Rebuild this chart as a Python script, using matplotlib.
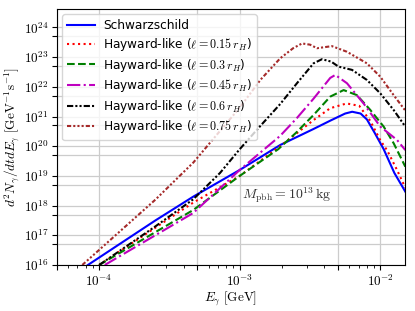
import numpy as np
import matplotlib
matplotlib.use('Agg')
import matplotlib.pyplot as plt
from matplotlib.ticker import LogLocator, FuncFormatter, NullLocator

plt.rcParams['mathtext.fontset'] = 'cm'
plt.rcParams['font.family'] = 'DejaVu Sans'

# log10(E / GeV) and log10(d2N/dtdE)
sch_lx = [-4.08, -3.6, -3.331, -3.0, -2.712, -2.475, -2.356, -2.25, -2.2, -2.14, -2.095, -2.04, -1.976, -1.9, -1.822]
sch_ly = [16.0, 17.5, 18.30, 19.2, 20.04, 20.58, 20.86, 21.10, 21.16, 21.10, 20.9, 20.45, 19.9, 19.1, 18.47]

l015_lx = [-4.0, -3.331, -3.0, -2.712, -2.475, -2.356, -2.24, -2.15, -2.071, -2.0, -1.95, -1.881, -1.822]
l015_ly = [16.0, 18.10, 19.0, 20.0, 20.88, 21.28, 21.44, 21.36, 20.85, 20.2, 19.85, 19.2, 18.6]

l03_lx = [-4.0, -3.331, -3.0, -2.726, -2.6, -2.475, -2.356, -2.261, -2.166, -2.071, -1.976, -1.905, -1.822]
l03_ly = [16.0, 17.85, 19.0, 19.9, 20.45, 21.05, 21.67, 21.89, 21.72, 21.22, 20.66, 20.10, 19.31]

l045_lx = [-3.96, -3.331, -3.0, -2.712, -2.593, -2.475, -2.356, -2.32, -2.237, -2.119, -2.0, -1.881, -1.822]
l045_ly = [16.0, 17.75, 19.2, 20.35, 20.95, 21.6, 22.3, 22.4, 22.12, 21.44, 20.66, 20.21, 19.87]

l06_lx = [-4.0, -3.6, -3.331, -3.14, -3.0, -2.85, -2.712, -2.593, -2.475, -2.415, -2.35, -2.297, -2.201, -2.095, -2.0, -1.905, -1.822]
l06_ly = [16.0, 17.3, 18.21, 19.1, 19.9, 20.7, 21.42, 22.12, 22.79, 22.93, 22.85, 22.68, 22.57, 22.23, 21.78, 21.22, 20.66]

l075_lx = [-4.12, -3.6, -3.33, -3.0, -2.85, -2.712, -2.62, -2.557, -2.5, -2.45, -2.344, -2.237, -2.095, -2.0, -1.905, -1.822]
l075_ly = [16.0, 18.2, 19.45, 21.3, 22.25, 22.96, 23.3, 23.46, 23.42, 23.30, 23.37, 23.18, 22.79, 22.34, 21.72, 21.2]

curves = [
    (sch_lx, sch_ly, 'Schwarzschild', 'b', '-'),
    (l015_lx, l015_ly, r'Hayward-like ($\ell = 0.15\,r_H$)', 'r', ':'),
    (l03_lx, l03_ly, r'Hayward-like ($\ell = 0.3\,r_H$)', 'g', '--'),
    (l045_lx, l045_ly, r'Hayward-like ($\ell = 0.45\,r_H$)', 'm', '-.'),
    (l06_lx, l06_ly, r'Hayward-like ($\ell = 0.6\,r_H$)', 'k', (0, (3, 1, 1, 1, 1, 1))),
    (l075_lx, l075_ly, r'Hayward-like ($\ell = 0.75\,r_H$)', 'brown', (0, (2, 1, 1, 1, 1, 1, 1, 1))),
]

fig = plt.figure(figsize=(4.15, 3.11), dpi=100)
ax = fig.add_axes([0.137, 0.148, 0.839, 0.823])

for lx, ly, lab, c, ls in curves:
    ax.plot(10**np.array(lx), 10**np.array(ly), color=c, linestyle=ls, linewidth=1.5, label=lab)

ax.set_xscale('log')
ax.set_yscale('log')
ax.set_xlim(5e-5, 1.5e-2)
ax.set_ylim(1e16, 10**24.62)

pow_fmt = FuncFormatter(lambda v, p: r'$10^{%d}$' % round(np.log10(v)) if abs(np.log10(v) - round(np.log10(v))) < 1e-6 else '')
for axis in (ax.xaxis, ax.yaxis):
    axis.set_major_locator(LogLocator(base=10, subs=(1.0, 5.0), numticks=30))
    axis.set_major_formatter(pow_fmt)
ax.xaxis.set_minor_locator(LogLocator(base=10, subs=(2, 3, 4, 6, 7, 8, 9), numticks=30))
ax.yaxis.set_minor_locator(NullLocator())
ax.tick_params(axis='both', which='major', labelsize=9.5, length=3.5, pad=2.5)
ax.tick_params(axis='both', which='minor', length=2)

ax.grid(True, which='major', color='0.8', linewidth=0.9)

ax.set_xlabel(r'$E_\gamma\ [\mathrm{GeV}]$', fontsize=9.5, labelpad=1)
ax.set_ylabel(r'$d^2N_\gamma/dtdE_\gamma\ [\mathrm{GeV^{-1}s^{-1}}]$', fontsize=9.5, labelpad=1)

ax.text(10**-2.982, 10**18.36, r'$M_{\rm pbh} = 10^{13}\,{\rm kg}$', fontsize=10, color='0.2', va='center')

ax.legend(loc='upper left', fontsize=8.7, handlelength=2.3, handletextpad=0.7,
          labelspacing=0.3, borderaxespad=0.45)

plt.savefig('out.png', dpi=100)
